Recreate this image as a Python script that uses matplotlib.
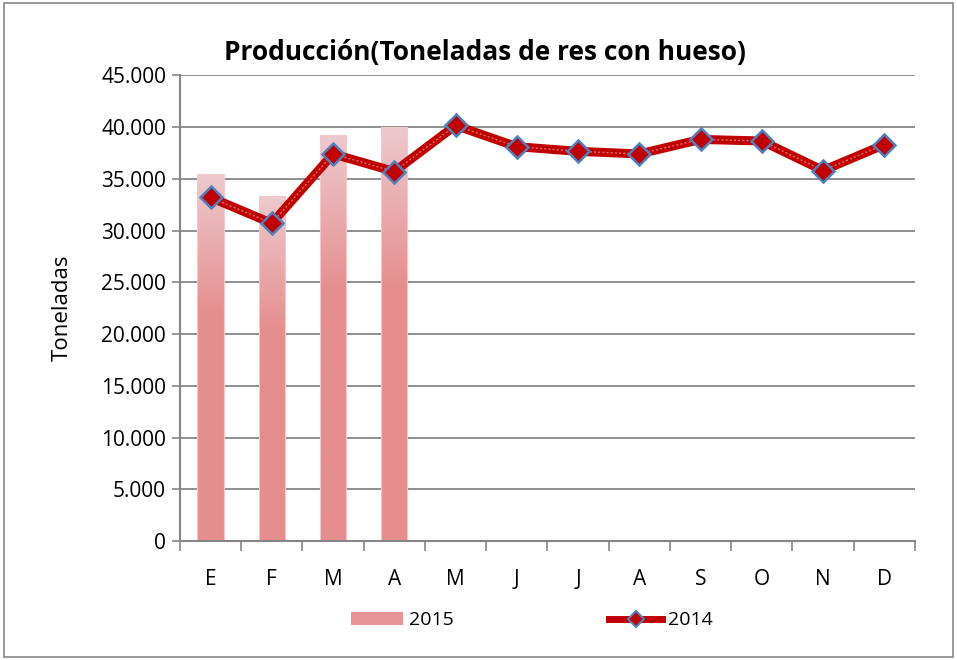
import matplotlib
matplotlib.use("Agg")
import matplotlib.pyplot as plt
import numpy as np
from matplotlib.patches import Rectangle
from matplotlib.lines import Line2D
from matplotlib.colors import LinearSegmentedColormap
import matplotlib.ticker as mticker

months = ["E", "F", "M", "A", "M", "J", "J", "A", "S", "O", "N", "D"]
prod_2015 = [35500, 33300, 39200, 40000]
prod_2014 = [33200, 30700, 37400, 35700, 40150, 38100, 37650, 37400, 38800, 38650, 35800, 38300]
yticks = list(range(0, 45001, 5000))

plt.rcParams['font.family'] = ['Open Sans', 'DejaVu Sans']

fig = plt.figure(figsize=(9.57, 6.60), dpi=100)
ax = fig.add_axes([0.188, 0.180, 0.768, 0.706])

x = np.arange(len(months))
bw = 0.43
cmap = LinearSegmentedColormap.from_list("g", [(0, "#E68E8E"), (0.62, "#E68F8F"), (1, "#EDCACE")])
grad = np.linspace(0, 1, 256).reshape(-1, 1)
for i, v in enumerate(prod_2015):
    im = ax.imshow(grad, extent=[x[i] - bw/2, x[i] + bw/2, 0, v], origin="lower",
                   cmap=cmap, aspect="auto", zorder=2, vmin=0, vmax=1)
    r = Rectangle((x[i] - bw/2, 0), bw, v, transform=ax.transData, facecolor="none", edgecolor="none")
    ax.add_patch(r)
    im.set_clip_path(r)
    ax.add_patch(Rectangle((x[i] - bw/2, 0), bw, v, facecolor="none", edgecolor="#F2C8CA", lw=0.8, zorder=2))

ax.plot(x, prod_2014, color="#C00000", lw=6.5, zorder=3, solid_joinstyle="round")
ax.plot(x, prod_2014, color="#E46A6A", lw=1, zorder=3, ls=(0, (1.5, 1.5)))
ax.plot(x, prod_2014, ls="none", marker="D", ms=11, mfc="#C00000", mec="#4F81BD", mew=1.8, zorder=4)

ax.set_xlim(-0.5, 11.5)
ax.set_ylim(0, 45000)
ax.set_yticks(yticks)
ax.yaxis.set_major_formatter(mticker.FuncFormatter(lambda v, p: f"{int(v):,}".replace(",", ".")))
ax.set_xticks(x)
ax.set_xticklabels(months)
ax.set_xticks(np.arange(-0.5, 12, 1), minor=True)
ax.tick_params(axis="x", which="major", length=0, pad=20, labelsize=15)
ax.tick_params(axis="x", which="minor", length=7, width=1.2, color="#868686", direction="out")
ax.tick_params(axis="y", length=6, width=1.2, color="#868686", labelsize=15, pad=4)
ax.grid(axis="y", color="#868686", lw=1.3, zorder=1)
ax.set_axisbelow(True)
for s in ["top", "right"]:
    ax.spines[s].set_visible(False)
for s in ["left", "bottom"]:
    ax.spines[s].set_color("#868686")
    ax.spines[s].set_linewidth(1.5)

ax.set_ylabel("Toneladas", fontsize=16, labelpad=20)
fig.text(0.507, 0.921, "Producción(Toneladas de res con hueso)", ha="center", va="center",
         fontsize=19, fontweight="bold")

h1 = Rectangle((0, 0), 1, 1, facecolor="#E89496", edgecolor="none")
h2 = Line2D([], [], color="#C00000", lw=5, marker="D", ms=8, mfc="#C00000", mec="#4F81BD", mew=1.5)
fig.legend([h1, h2], ["2015", "2014"], loc="center", bbox_to_anchor=(0.5555, 0.06), ncol=2,
           frameon=False, fontsize=14, handlelength=2.7, columnspacing=8.0, handletextpad=0.3)

fig.add_artist(Rectangle((0.004, 0.004), 0.992, 0.992, transform=fig.transFigure,
                         fill=False, edgecolor="#868686", lw=1.2))

fig.savefig("out.png", dpi=100)
